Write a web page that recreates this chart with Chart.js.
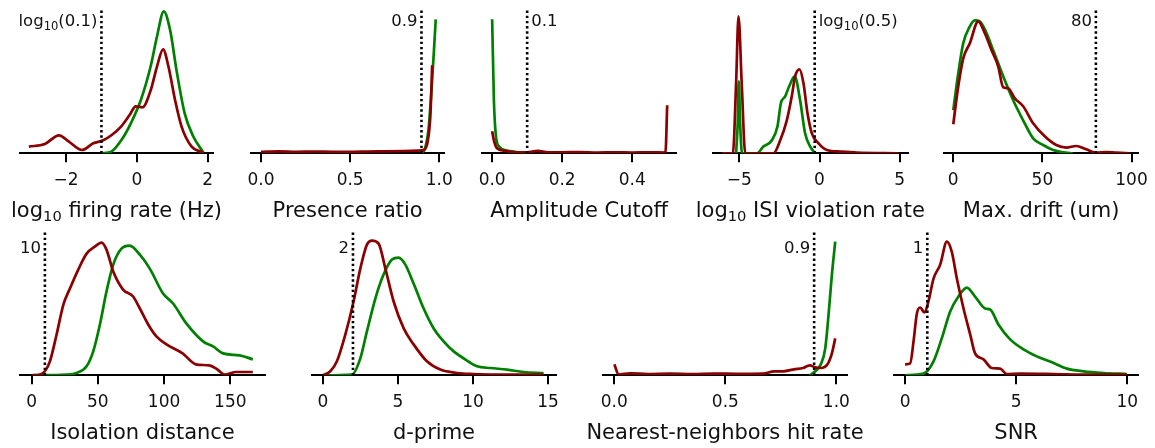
<!DOCTYPE html>
<html>
<head>
<meta charset="utf-8">
<script src="https://cdn.jsdelivr.net/npm/chart.js@4.4.1/dist/chart.umd.min.js"></script>
<style>
  html, body { margin: 0; padding: 0; background: #fff; overflow: hidden; width: 1155px; height: 448px; }
  canvas { position: absolute; }
</style>
</head>
<body>
<script>
// density curves, [value, density (a.u.)]; green = passing units, red = failing units
const firingGood = [[-1.0,0],[-0.72,1.7],[-0.44,13],[-0.17,30],[0.11,53],[0.39,87],[0.57,117],[0.76,142],[0.94,123],[1.12,83],[1.35,40],[1.59,17],[1.88,0.7]];
const firingBad = [[-3.05,6.7],[-2.6,9.3],[-2.2,18],[-1.92,11.7],[-1.55,3.3],[-1.23,10],[-0.95,13],[-0.72,18],[-0.44,27],[-0.21,38],[-0.03,47],[0.16,46],[0.39,63],[0.57,87],[0.74,104],[0.89,87],[1.08,53],[1.26,27],[1.54,7],[1.86,0.7]];

const presenceGood = [[0.9,0],[0.92,5],[0.94,25],[0.955,60],[0.97,103],[0.98,134]];
const presenceBad = [[0,1.5],[0.1,2],[0.2,1.5],[0.3,1.8],[0.4,1.5],[0.5,1.5],[0.6,1.8],[0.7,2],[0.8,2.3],[0.88,2.7],[0.915,3.5],[0.935,12],[0.95,38],[0.96,88]];

const ampGood = [[0,134],[0.005,53],[0.01,20],[0.02,6.7],[0.043,2.7],[0.08,0.7],[0.1,0]];
const ampBad = [[0,22],[0.005,13],[0.014,5],[0.033,2.7],[0.06,1.3],[0.1,1],[0.13,2.5],[0.16,1],[0.2,1],[0.25,1.2],[0.3,0.7],[0.35,1],[0.4,0.7],[0.45,1],[0.495,0.7],[0.5,48]];

const isiGood = [[-5.2,0],[-5.1,30],[-5.03,72],[-4.95,30],[-4.83,0],[-3.9,0],[-3.5,6.7],[-2.97,13],[-2.62,27],[-2.41,50],[-2.14,57],[-1.89,67],[-1.55,77],[-1.21,53],[-0.9,20],[-0.58,6.7],[-0.27,0]];
const isiBad = [[-6.1,0],[-5.4,0],[-5.2,70],[-5.05,137],[-4.85,70],[-4.63,0],[-2.87,0],[-2.45,13],[-2.04,33],[-1.73,57],[-1.52,77],[-1.25,84],[-1.0,70],[-0.75,40],[-0.48,20],[-0.06,10],[0.46,3.3],[1.29,1.7],[2.33,0.7],[4.93,0]];

const driftGood = [[0,43],[2.8,80],[5.6,110],[9.3,127],[12.1,133],[14.9,132],[18.7,120],[22.4,103],[28,77],[33.6,53],[39.2,33],[44.8,15],[50.4,8.3],[56,3.3],[61.6,1],[67,0]];
const driftBad = [[0,29],[2.8,67],[5.6,95],[9.3,110],[14,132],[17.7,120],[21.5,103],[25.2,87],[28,66],[30.8,65],[34.5,55],[39.2,47],[44.8,30],[51.3,17],[57.8,8.3],[63.4,5.7],[69,7.3],[74.6,4],[80.2,0.7],[85.8,1.3],[91.4,0.7],[99,0]];

const isoGood = [[0,0],[26.4,0.7],[34,2.3],[41.5,9],[46.5,24],[51.5,50.7],[56.5,84],[61.6,111],[67.8,127],[74,130],[81.7,121],[89.2,107],[99.2,82],[106.8,72],[116.8,52],[129.4,34],[137,29],[144.5,22],[157,20],[167,16]];
const isoBad = [[0,0],[6.3,0.7],[10,4],[13.8,14],[18.8,40.7],[23.9,70.7],[28.9,87],[35.2,106],[41.5,122],[47.7,129],[52.8,133],[56.5,126],[61.6,104],[69,86],[76.6,79],[81.7,67],[88,51],[94.2,39],[101.8,31],[114,22],[124,11],[134,10],[139.4,6.7],[145.7,0.7],[154.5,3.3],[167,3.3]];

const dpGood = [[0,0],[1.93,0.7],[2.49,17],[2.93,44],[3.49,77],[4.04,101],[4.6,116],[5.04,118],[5.49,111],[6.04,92],[6.71,67],[7.38,47],[8.04,34],[8.71,24],[9.38,17],[10.27,9],[11.16,7.3],[12.27,5.7],[13.38,3.3],[14.7,2.3]];
const dpBad = [[0,0],[0.49,4],[0.93,14],[1.49,40.7],[2.04,74],[2.49,107],[2.93,131],[3.27,135],[3.71,132],[4.16,107],[4.71,74],[5.38,47],[6.04,31],[6.93,14],[7.82,5.7],[8.93,2.3],[10,1.3],[12.3,0.7],[14.7,0.7]];

const nnGood = [[0.88,0],[0.905,4],[0.93,11],[0.95,27],[0.965,61],[0.98,101],[0.995,134]];
const nnBad = [[0,11],[0.02,0.7],[0.07,2],[0.15,1.3],[0.25,1.7],[0.35,1.3],[0.45,1.7],[0.55,1.5],[0.67,1.7],[0.72,4],[0.76,4],[0.81,6],[0.85,7.3],[0.88,10],[0.905,8],[0.93,7.3],[0.96,11],[0.98,22],[0.995,37]];

const snrGood = [[0,0],[0.83,1.7],[1.28,14],[1.65,37],[2.03,64],[2.4,79],[2.78,88],[3.15,79],[3.6,67],[3.83,66],[4.2,51],[4.73,36],[5.33,26],[5.93,19],[6.61,13],[7.28,6.7],[8.03,4],[8.93,2.3],[9.98,1.3]];
const snrBad = [[0,11],[0.23,12],[0.38,34],[0.53,62],[0.68,68],[0.87,63],[1.05,74],[1.28,97],[1.58,111],[1.88,134],[2.1,124],[2.33,97],[2.63,67],[2.93,41],[3.15,22],[3.53,16],[3.9,7.3],[4.28,6.7],[4.58,1.3],[5.18,1.7],[6.68,1.3],[8.18,0.7],[9.98,0.7]];

const goodSeries = [firingGood, presenceGood, ampGood, isiGood, driftGood, isoGood, dpGood, nnGood, snrGood];
const badSeries = [firingBad, presenceBad, ampBad, isiBad, driftBad, isoBad, dpBad, nnBad, snrBad];

const titles = ['log_{10} firing rate (Hz)', 'Presence ratio', 'Amplitude Cutoff', 'log_{10} ISI violation rate', 'Max. drift (um)',
                'Isolation distance', 'd-prime', 'Nearest-neighbors hit rate', 'SNR'];
const thresholds = [-1, 0.9, 0.1, Math.log10(0.5), 80, 10, 2, 0.9, 1];
const thresholdLabels = ['log_{10}(0.1)', '0.9', '0.1', 'log_{10}(0.5)', '80', '10', '2', '0.9', '1'];
const labelSide = ['left', 'left', 'right', 'right', 'left', 'left', 'left', 'left', 'left'];
const tickValues = [[-2,0,2],[0,0.5,1],[0,0.2,0.4],[-5,0,5],[0,50,100],[0,50,100,150],[0,5,10,15],[0,0.5,1],[0,5,10]];
const tickLabels = [['−2','0','2'],['0.0','0.5','1.0'],['0.0','0.2','0.4'],['−5','0','5'],['0','50','100'],
                    ['0','50','100','150'],['0','5','10','15'],['0.0','0.5','1.0'],['0','5','10']];
const xLimits = [[-3.3,2.15],[-0.056,1.028],[-0.029,0.526],[-6.64,5.49],[-5.2,103.8],[-8.8,176.2],[-0.73,15.53],[-0.051,1.048],[-0.5,10.5]];
const densityMax = 144;

// where each panel's axis sits on the page
const boxes = [
  {left: 20, right: 213, row: 0}, {left: 250.7, right: 444, row: 0}, {left: 481.7, right: 676, row: 0},
  {left: 712.7, right: 907.3, row: 0}, {left: 944, right: 1138.3, row: 0},
  {left: 20, right: 265, row: 1}, {left: 311.7, right: 555.7, row: 1}, {left: 602.7, right: 846.7, row: 1},
  {left: 894, right: 1138.3, row: 1}
];
const rows = [{top: 0, padTop: 9.3, labelRise: 127}, {top: 222, padTop: 9.7, labelRise: 122.4}];
const side = 40, canvasH = 230;

function drawRich(ctx, str, x, y, size, align) {
  const parts = str.split(/_\{([^}]*)\}/);
  const subSize = size * 0.7, drop = size * 0.22;
  const fonts = parts.map((p, i) => (i % 2 ? subSize : size) + 'px "DejaVu Sans"');
  const widths = parts.map((p, i) => { ctx.font = fonts[i]; return ctx.measureText(p).width; });
  const total = widths.reduce((a, b) => a + b, 0);
  let cx = align === 'right' ? x - total : align === 'center' ? x - total / 2 : x;
  ctx.textAlign = 'left';
  ctx.textBaseline = 'alphabetic';
  parts.forEach((p, i) => {
    ctx.font = fonts[i];
    ctx.fillText(p, cx, y + (i % 2 ? drop : 0));
    cx += widths[i];
  });
}

const textPlugin = {
  id: 'panelText',
  afterDatasetsDraw(chart, args, opts) {
    const ctx = chart.ctx;
    const xs = chart.scales.x;
    const area = chart.chartArea;
    ctx.save();
    ctx.fillStyle = '#111';
    const px = xs.getPixelForValue(opts.thr);
    const left = opts.side === 'left';
    drawRich(ctx, opts.label, left ? px - 4 : px + 4, area.bottom - opts.labelRise, 16.5, left ? 'right' : 'left');
    drawRich(ctx, opts.title, (xs.left + xs.right) / 2, area.bottom + 63.5, 21, 'center');
    ctx.restore();
  }
};

const toXY = (arr) => arr.map((d) => ({x: d[0], y: d[1]}));

boxes.forEach((b, i) => {
  const row = rows[b.row];
  const cv = document.createElement('canvas');
  const w = Math.round(b.right - b.left + 2 * side);
  cv.width = w;
  cv.height = canvasH;
  cv.style.left = (b.left - side) + 'px';
  cv.style.top = row.top + 'px';
  document.body.appendChild(cv);

  new Chart(cv.getContext('2d'), {
    type: 'line',
    data: {
      datasets: [
        {data: toXY([[thresholds[i], 0], [thresholds[i], densityMax]]), borderColor: '#000', borderWidth: 2.6,
         borderDash: [2.4, 2.8], pointRadius: 0, order: 0},
        {data: toXY(badSeries[i]), borderColor: '#8b0000', borderWidth: 2.7, pointRadius: 0,
         cubicInterpolationMode: 'monotone', order: 1},
        {data: toXY(goodSeries[i]), borderColor: '#008000', borderWidth: 2.7, pointRadius: 0,
         cubicInterpolationMode: 'monotone', order: 2}
      ]
    },
    options: {
      responsive: false,
      animation: false,
      layout: {padding: {left: side, right: w - side - (b.right - b.left), top: row.padTop, bottom: 30.7}},
      plugins: {
        legend: {display: false},
        tooltip: {enabled: false},
        panelText: {thr: thresholds[i], label: thresholdLabels[i], side: labelSide[i], title: titles[i], labelRise: row.labelRise}
      },
      scales: {
        x: {
          type: 'linear',
          min: xLimits[i][0],
          max: xLimits[i][1],
          afterBuildTicks: (scale) => { scale.ticks = tickValues[i].map((v) => ({value: v})); },
          ticks: {
            autoSkip: false,
            maxRotation: 0,
            padding: 8.3,
            color: '#111',
            font: {family: 'DejaVu Sans', size: 17},
            callback: (v, idx) => tickLabels[i][idx]
          },
          grid: {display: true, drawOnChartArea: false, drawTicks: true, tickLength: 9, color: '#000', lineWidth: 2},
          border: {display: true, color: '#000', width: 2}
        },
        y: {display: false, min: 0, max: densityMax}
      }
    },
    plugins: [textPlugin]
  });
});
</script>
</body>
</html>
